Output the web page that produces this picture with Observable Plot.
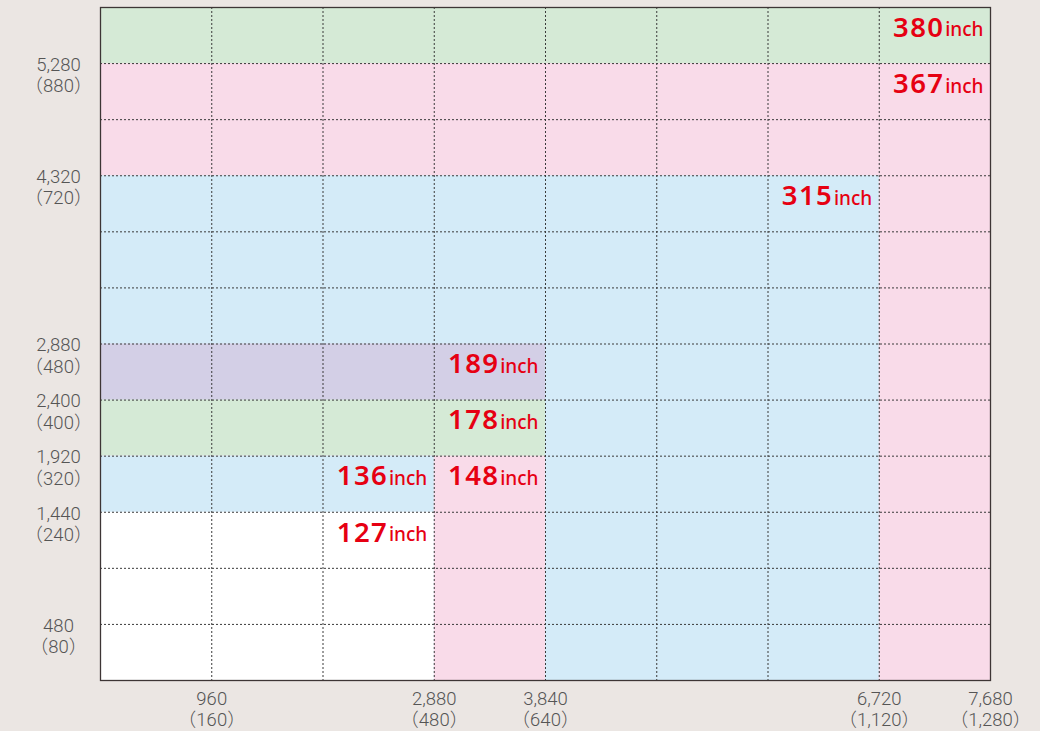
<!DOCTYPE html>
<html><head><meta charset="utf-8">
<script src="https://cdn.jsdelivr.net/npm/d3@7"></script>
<script src="https://cdn.jsdelivr.net/npm/@observablehq/plot@0.6"></script>
<style>
html,body{margin:0;padding:0;background:#ebe6e3;}
#chart svg{display:block;}
</style></head><body><div id="chart"></div>
<script>
// screen sizes (px) and their diagonal in inches
const sizes = ["380","367","315","189","178","148","136","127"];
const widthsPx = [7680,7680,6720,3840,3840,3840,2880,2880];
const heightsPx = [5760,5280,4320,2880,2400,1920,1920,1440];
const fills = ["#d5ead6","#f9dbe9","#d4ebf8","#d3cfe6","#d5ead6","#f9dbe9","#d4ebf8","#ffffff"];

const xTickValues = [960,2880,3840,6720,7680];
const xTickLabels = ["960","2,880","3,840","6,720","7,680"];
const xTickSub = ["（160）","（480）","（640）","（1,120）","（1,280）"];
const yTickValues = [480,1440,1920,2400,2880,4320,5280];
const yTickLabels = ["480","1,440","1,920","2,400","2,880","4,320","5,280"];
const yTickSub = ["（80）","（240）","（320）","（400）","（480）","（720）","（880）"];

const gridXValues = [960,1920,2880,3840,4800,5760,6720];
const gridYValues = [480,960,1440,1920,2400,2880,3360,3840,4320,4800,5280];

const rects = sizes.map((s,i)=>({size:s, w:widthsPx[i], h:heightsPx[i]}));
const xLab = new Map(xTickValues.map((v,i)=>[v, xTickLabels[i]+"\n"+xTickSub[i]]));
const yLab = new Map(yTickValues.map((v,i)=>[v, yTickLabels[i]+"\n"+yTickSub[i]]));

const chart = Plot.plot({
  width:1040, height:731,
  marginLeft:100, marginRight:50, marginTop:7, marginBottom:51,
  x:{domain:[0,7680]}, y:{domain:[0,5760]},
  color:{domain:sizes, range:fills},
  style:{background:"transparent", fontFamily:"Roboto, 'Noto Sans CJK JP', sans-serif"},
  marks:[
    Plot.rect(rects,{x1:()=>0, x2:"w", y1:()=>0, y2:"h", fill:"size"}),
    Plot.gridX(gridXValues,{stroke:"#3a3a3a", strokeOpacity:1, strokeDasharray:"2,2"}),
    Plot.gridY(gridYValues,{stroke:"#3a3a3a", strokeOpacity:1, strokeDasharray:"2,2"}),
    Plot.frame({stroke:"#3d3535", strokeWidth:1.3}),
    Plot.axisX(xTickValues,{tickSize:0, tickPadding:10, tickFormat:v=>xLab.get(v), fontSize:18.5, fontWeight:300, fill:"#555", lineAnchor:"top", lineHeight:1.13, label:null}),
    Plot.axisY(yTickValues,{tickSize:0, tickPadding:42, textAnchor:"middle", tickFormat:v=>yLab.get(v), fontSize:18.5, fontWeight:300, fill:"#555", lineAnchor:"top", dy:-8, lineHeight:1.16, label:null}),
    Plot.text(rects,{x:"w", y:"h", text:"size", textAnchor:"end", dx:-46, dy:20.5, fill:"#e60012", fontSize:27.5, fontWeight:600, fontFamily:"'Noto Sans', 'Liberation Sans', Arial, sans-serif"}),
    Plot.text(rects,{x:"w", y:"h", text:()=>"inch", textAnchor:"end", dx:-7, dy:22.9, fill:"#e60012", fontSize:19, fontWeight:500, fontFamily:"'Noto Sans', 'Liberation Sans', Arial, sans-serif"})
  ]
});
d3.select(chart).selectAll("text")
  .filter(function(){ return sizes.includes(this.textContent); })
  .style("letter-spacing", "1.4px");
document.getElementById("chart").appendChild(chart);
</script></body></html>
